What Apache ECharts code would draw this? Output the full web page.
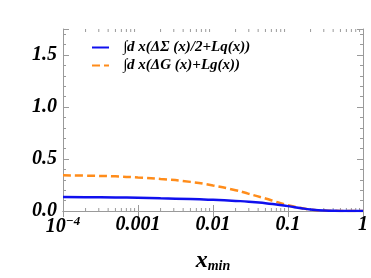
<!DOCTYPE html>
<html><head><meta charset="utf-8">
<script src="https://cdn.jsdelivr.net/npm/echarts@6/dist/echarts.min.js"></script>
<style>html,body{margin:0;padding:0;background:#fff}#c{width:371px;height:278px}</style>
</head><body><div id="c"></div>
<script>
const xValues = [1e-4, 2e-4, 5e-4, 1e-3, 2e-3, 5e-3, 0.01, 0.02, 0.03, 0.05, 0.07, 0.1, 0.15, 0.2, 0.3, 0.5, 0.7, 1];
const quarkValues = [0.135, 0.133, 0.130, 0.127, 0.122, 0.115, 0.107, 0.097, 0.090, 0.075, 0.062, 0.047, 0.027, 0.015, 0.005, 0.001, 0.0, 0.0];
const gluonValues = [0.343, 0.340, 0.333, 0.322, 0.308, 0.280, 0.245, 0.200, 0.165, 0.120, 0.088, 0.056, 0.028, 0.014, 0.004, 0.001, 0.0, 0.0];
const seriesNames = ['\u222Bd x(\u0394\u03A3 (x)/2+Lq(x))', '\u222Bd x(\u0394G (x)+Lg(x))'];
const yTicks = [0, 0.5, 1.0, 1.5];

const font = '"Liberation Serif", "Times New Roman", serif';
const chart = echarts.init(document.getElementById('c'));
const pair = (xs, ys) => xs.map((x, i) => [x, ys[i]]);
const axisLine = {show: true, lineStyle: {color: '#9a9a9a', width: 1}};
const xLabel = {
  fontFamily: font, fontSize: 20, fontWeight: 'bold', fontStyle: 'italic', color: '#000', margin: 4,
  formatter: v => {
    if (Math.abs(v - 1e-4) < 1e-9) return '{b|10}{s|\u22124}';
    return String(+v.toPrecision(3));
  },
  rich: {
    b: {fontFamily: font, fontSize: 20, fontWeight: 'bold', fontStyle: 'italic', color: '#000'},
    s: {fontFamily: font, fontSize: 13, fontWeight: 'bold', fontStyle: 'italic', color: '#000', verticalAlign: 'top', padding: [0, 0, 10, 0]}
  }
};
chart.setOption({
  animation: false,
  grid: {left: 63, right: 4, top: 29, bottom: 64},
  legend: {
    left: 86, top: 35, orient: 'vertical', itemWidth: 17, itemHeight: 10, itemGap: 3,
    itemStyle: {opacity: 0},
    textStyle: {fontFamily: font, fontSize: 15, fontWeight: 'bold', fontStyle: 'italic', color: '#000', padding: [0, 0, 0, 9]},
    data: [seriesNames[0], seriesNames[1]]
  },
  xAxis: [{
    type: 'log', min: 1e-4, max: 1, logBase: 10, position: 'bottom',
    name: '{x|x}{m|min}', nameLocation: 'middle', nameGap: 38,
    nameTextStyle: {rich: {
      x: {fontFamily: font, fontSize: 24, fontWeight: 'bold', fontStyle: 'italic', color: '#000'},
      m: {fontFamily: font, fontSize: 14, fontWeight: 'bold', fontStyle: 'italic', color: '#000', verticalAlign: 'bottom', padding: [8, 0, 0, 0]}
    }},
    axisLine: axisLine,
    axisTick: {show: true, inside: true, length: 6, lineStyle: {color: '#9a9a9a'}},
    axisLabel: xLabel,
    splitLine: {show: false}
  }, {
    type: 'log', min: 1e-4, max: 1, logBase: 10, position: 'top',
    axisLine: axisLine,
    axisTick: {show: true, inside: true, length: 6, lineStyle: {color: '#9a9a9a'}},
    axisLabel: {show: false}, splitLine: {show: false}
  }],
  yAxis: [{
    type: 'value', min: 0, max: 1.75, interval: 0.5, position: 'left',
    axisLine: axisLine,
    axisTick: {show: true, inside: true, length: 6, lineStyle: {color: '#9a9a9a'}},
    minorTick: {show: true, splitNumber: 5, length: 3, lineStyle: {color: '#9a9a9a'}},
    axisLabel: {fontFamily: font, fontSize: 20, fontWeight: 'bold', fontStyle: 'italic', color: '#000', margin: 6,
      showMaxLabel: false, formatter: v => yTicks.includes(+v.toFixed(2)) ? v.toFixed(1) : ''},
    splitLine: {show: false}
  }, {
    type: 'value', min: 0, max: 1.75, interval: 0.5, position: 'right',
    axisLine: axisLine,
    axisTick: {show: true, inside: true, length: 6, lineStyle: {color: '#9a9a9a'}},
    minorTick: {show: true, splitNumber: 5, length: 3, lineStyle: {color: '#9a9a9a'}},
    axisLabel: {show: false}, splitLine: {show: false}
  }],
  series: [{
    name: seriesNames[1], type: 'line', smooth: true, showSymbol: false, symbol: 'none',
    data: pair(xValues, gluonValues),
    lineStyle: {color: '#ff8c1a', width: 2.5, type: [8, 4]}, itemStyle: {color: '#ff8c1a'}, z: 2
  }, {
    name: seriesNames[0], type: 'line', smooth: true, showSymbol: false, symbol: 'none',
    data: pair(xValues, quarkValues),
    lineStyle: {color: '#1010ee', width: 2.5}, itemStyle: {color: '#1010ee'}, z: 3
  }]
});
// log-axis minor ticks (2..9 x 10^k) via axis scale conversion
const minor = [];
for (let k = -4; k < 0; k++) for (let m = 2; m <= 9; m++) minor.push(m * Math.pow(10, k));
const els = [];
minor.forEach(v => {
  const xb = chart.convertToPixel({xAxisIndex: 0}, v);
  const y0 = chart.convertToPixel({yAxisIndex: 0}, 0);
  const y1 = chart.convertToPixel({yAxisIndex: 0}, 1.75);
  els.push({type: 'line', shape: {x1: xb, y1: y0, x2: xb, y2: y0 - 3}, style: {stroke: '#9a9a9a', lineWidth: 1}});
  els.push({type: 'line', shape: {x1: xb, y1: y1, x2: xb, y2: y1 + 3}, style: {stroke: '#9a9a9a', lineWidth: 1}});
});
chart.setOption({graphic: els});
</script></body></html>
